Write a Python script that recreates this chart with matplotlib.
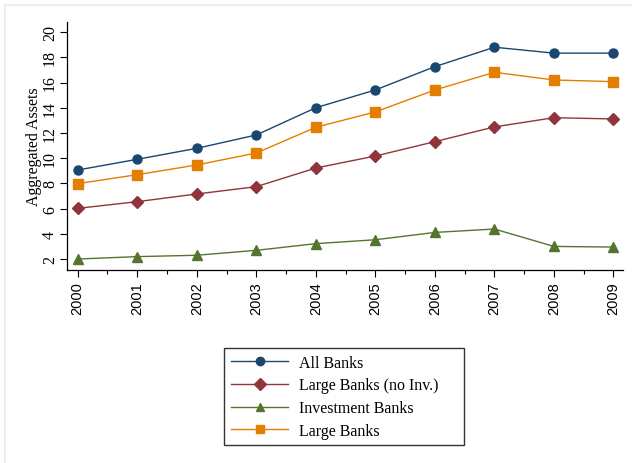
import matplotlib.pyplot as plt
from matplotlib.ticker import MultipleLocator
from matplotlib.lines import Line2D
from matplotlib.patches import Rectangle

years = [2000, 2001, 2002, 2003, 2004, 2005, 2006, 2007, 2008, 2009]
all_banks = [9.06, 9.91, 10.78, 11.84, 14.0, 15.41, 17.26, 18.8, 18.33, 18.33]
large_no_inv = [6.02, 6.55, 7.16, 7.74, 9.22, 10.17, 11.31, 12.48, 13.21, 13.11]
investment = [2.0, 2.19, 2.3, 2.69, 3.22, 3.53, 4.11, 4.38, 3.0, 2.95]
large_banks = [7.98, 8.69, 9.46, 10.41, 12.45, 13.67, 15.41, 16.81, 16.2, 16.07]
y_ticks = [2, 4, 6, 8, 10, 12, 14, 16, 18, 20]

navy = '#1a476f'
maroon = '#90353b'
green = '#55752f'
orange = '#e37e00'
serif = 'Liberation Serif'
sans = 'Liberation Sans'

W, H = 632, 464
fig = plt.figure(figsize=(W / 100, H / 100), dpi=100)
ax = fig.add_axes([67 / W, 1 - 271 / H, 556 / W, 248 / H])

# faint outer frame, Stata style
fig.add_artist(Line2D([5 / W, 5 / W], [0, 1 - 6 / H], color='#e6eced', lw=1.2))
fig.add_artist(Line2D([5 / W, 1], [1 - 6 / H, 1 - 6 / H], color='#e6eced', lw=1.2))

series = [
    (all_banks, navy, 'o', 'All Banks', 6.5),
    (large_no_inv, maroon, 'D', 'Large Banks (no Inv.)', 6),
    (investment, green, '^', 'Investment Banks', 7.5),
    (large_banks, orange, 's', 'Large Banks', 6.5),
]
for vals, col, mk, lab, ms in series:
    ax.plot(years, vals, color=col, lw=1.0, marker=mk, markersize=ms,
            markeredgecolor=col, label=lab)

ax.set_xlim(1999.82, 2009.16)
ax.set_ylim(1.13, 20.8)
ax.set_xticks(years)
ax.set_xticklabels([str(y) for y in years], rotation=90, fontfamily=sans, fontsize=10.5)
ax.xaxis.set_minor_locator(MultipleLocator(0.5))
ax.set_yticks(y_ticks)
ax.set_yticklabels([str(v) for v in y_ticks], rotation=90, va='center',
                   fontfamily=serif, fontsize=11.5)
ax.tick_params(axis='both', which='major', length=5, width=0.8, pad=3)
ax.tick_params(axis='y', which='major', pad=1.5)
ax.tick_params(axis='x', which='minor', length=3, width=0.8)
ax.set_ylabel('Aggregated Assets', fontfamily=serif, fontsize=11.5, labelpad=0)

for s in ['top', 'right']:
    ax.spines[s].set_visible(False)
for s in ['left', 'bottom']:
    ax.spines[s].set_linewidth(0.9)

# legend box drawn separately so the right padding matches
fig.add_artist(Rectangle((224 / W, 1 - 446 / H), 240 / W, 97 / H, transform=fig.transFigure,
                         facecolor='white', edgecolor='#333333', lw=1.0, zorder=2))
leg = fig.legend(loc='upper left', bbox_to_anchor=(226 / W, 1 - 351 / H),
                 prop={'family': serif, 'size': 11.5}, frameon=False,
                 handlelength=3.6, handletextpad=0.7,
                 labelspacing=0.42, borderpad=0.3, borderaxespad=0)
leg.set_zorder(3)
for h in leg.legend_handles:
    h.set_markersize(6)

fig.savefig('out.png', dpi=100)
